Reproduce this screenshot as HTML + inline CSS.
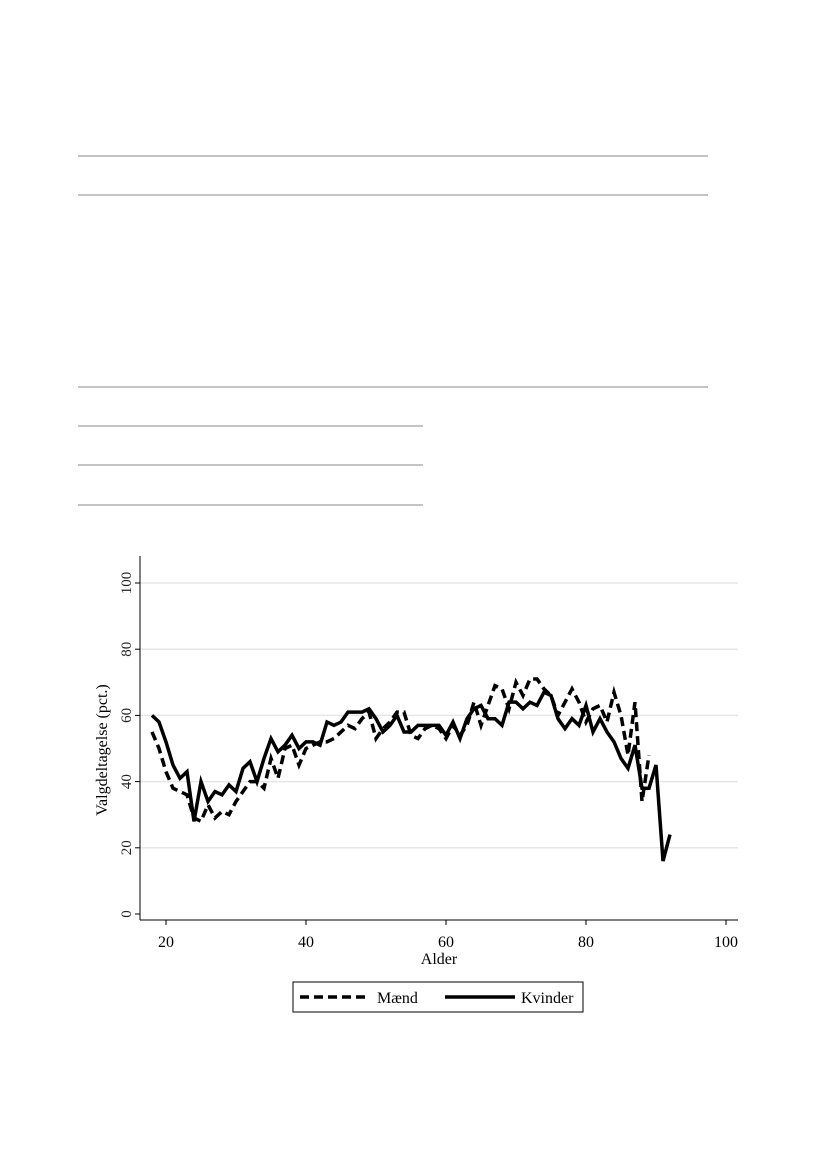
<!DOCTYPE html>
<html><head><meta charset="utf-8"><style>
body{margin:0;background:#fff;width:827px;height:1169px;overflow:hidden;font-family:"Liberation Serif",serif}
</style></head><body>
<svg width="827" height="1169" xmlns="http://www.w3.org/2000/svg">
<g stroke="#888" stroke-width="1">
<line x1="78" y1="156" x2="708" y2="156"/><line x1="78" y1="195" x2="708" y2="195"/>
<line x1="78" y1="387" x2="708" y2="387"/>
<line x1="78" y1="426" x2="423" y2="426"/><line x1="78" y1="465" x2="423" y2="465"/><line x1="78" y1="505" x2="423" y2="505"/>
</g>
<g id="chart"></g>
</svg>
<script>
const ages=[];for(let a=18;a<=92;a++)ages.push(a);
const kvinder=[60,58,52,45,41,43,28,40,34,37,36,39,37,44,46,40,47,53,49,51,54,50,52,52,51,58,57,58,61,61,61,62,59,55,57,60,55,55,57,57,57,57,54,58,53,59,62,63,59,59,57,64,64,62,64,63,67,66,59,56,59,57,63,55,59,55,52,47,44,51,38,38,45,16,24];
const maend=[55,50,43,38,37,36,29,28,33,29,31,30,34,37,40,40,38,47,41,50,51,45,50,51,52,52,53,55,57,56,59,61,53,56,58,61,61,54,53,56,57,56,53,57,54,57,64,57,63,69,68,62,70,66,71,71,68,66,60,64,68,64,58,62,63,58,67,60,48,64,34,48];
const yTicks=[0,20,40,60,80,100];
const xTicks=[20,40,60,80,100];
const NS="http://www.w3.org/2000/svg";
const g=document.getElementById('chart');
const X=v=>166+(v-20)*7;
const Y=v=>914-v*3.31;
function el(t,a,p){const e=document.createElementNS(NS,t);for(const k in a)e.setAttribute(k,a[k]);(p||g).appendChild(e);return e;}
yTicks.forEach(t=>{
 if(t>0){const l=el('line',{x1:140,x2:738,y1:Y(t),y2:Y(t),stroke:'#e6e6e6','stroke-width':1.5});
 
 }
 const tk=el('line',{x1:135,x2:140,y1:Y(t),y2:Y(t),stroke:'#000'});
 
 
 const tx=el('text',{x:0,y:0,transform:`translate(131,${Y(t)}) rotate(-90)`,'text-anchor':'middle','font-size':15,fill:'#222'});
 tx.textContent=t;
 
 
});
xTicks.forEach(t=>{
 const tk=el('line',{x1:X(t),x2:X(t),y1:920,y2:925,stroke:'#000'});
 
 
 const tx=el('text',{x:X(t),y:947,'text-anchor':'middle','font-size':16});
 tx.textContent=t;
 
 
});
const ya=el('line',{x1:140,x2:140,y1:556,y2:920,stroke:'#000'});


const xa=el('line',{x1:140,x2:738,y1:920,y2:920,stroke:'#000'});


function path(vals){return vals.map((v,i)=>(i?'L':'M')+X(ages[i])+','+Y(v)).join(' ');}
const pm=el('path',{d:path(maend),fill:'none',stroke:'#000','stroke-width':3.5,'stroke-dasharray':'9,5'});


const pk=el('path',{d:path(kvinder),fill:'none',stroke:'#000','stroke-width':3.5});


const xt=el('text',{x:439,y:964,'text-anchor':'middle','font-size':16});
xt.textContent='Alder';


const yt=el('text',{x:0,y:0,transform:'translate(107,750) rotate(-90)','text-anchor':'middle','font-size':16});
yt.textContent='Valgdeltagelse (pct.)';


const lg=el('g',{});


el('rect',{x:293,y:982,width:290,height:30,fill:'#fff',stroke:'#000'},lg);
const l1=el('line',{x1:300,x2:370,y1:997,y2:997,stroke:'#000','stroke-width':3.5,'stroke-dasharray':'9,5'},lg);


const t1=el('text',{x:377,y:1003,'font-size':16},lg);t1.textContent='Mænd';


const l2=el('line',{x1:445,x2:515,y1:997,y2:997,stroke:'#000','stroke-width':3.5},lg);


const t2=el('text',{x:521,y:1003,'font-size':16},lg);t2.textContent='Kvinder';


</script>
</body></html>
